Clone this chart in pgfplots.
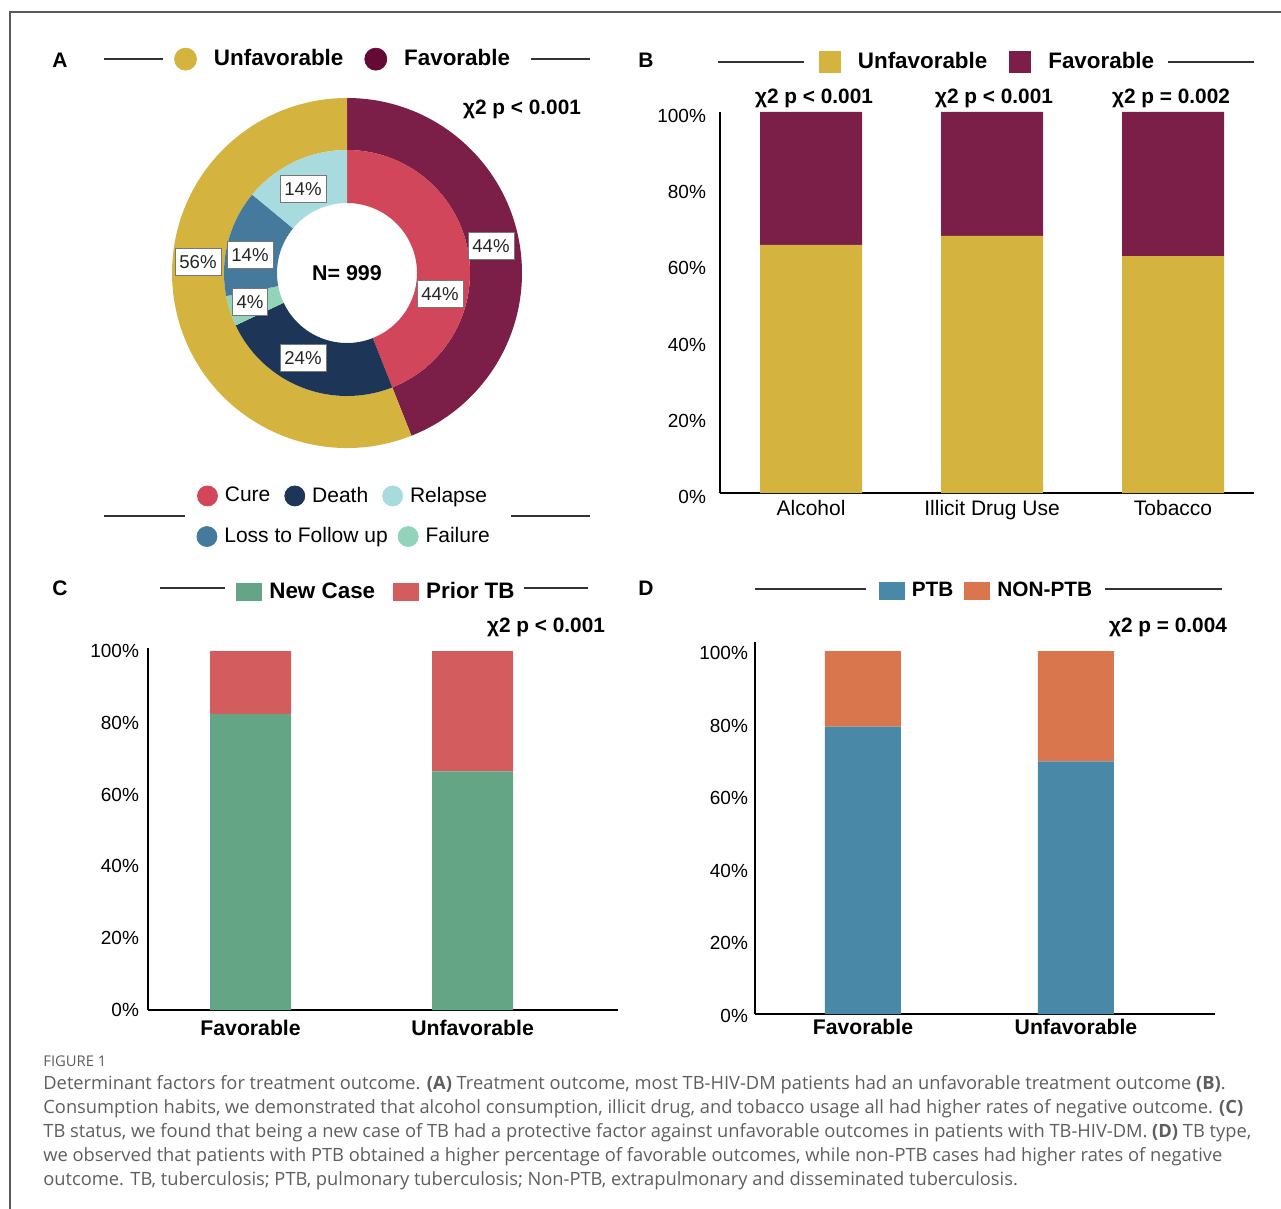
\documentclass[border=0pt]{standalone}
\usepackage{pgfplots}
\pgfplotsset{compat=1.18}
\usepackage{fontspec}
\setmainfont{Liberation Sans}
\newfontfamily\capfont{Open Sans}

\definecolor{unfav}{HTML}{D4B33E}
\definecolor{fav}{HTML}{7B1F48}
\definecolor{favkey}{HTML}{650A34}
\definecolor{cure}{HTML}{D1465A}
\definecolor{death}{HTML}{1D3557}
\definecolor{relapse}{HTML}{A8DBDD}
\definecolor{ltfu}{HTML}{467A9D}
\definecolor{failure}{HTML}{93D3BA}
\definecolor{newcase}{HTML}{64A586}
\definecolor{prior}{HTML}{D35D5E}
\definecolor{ptb}{HTML}{4A88A8}
\definecolor{nonptb}{HTML}{DA764E}
\definecolor{rulegray}{HTML}{333333}
\definecolor{boxgray}{HTML}{777777}
\definecolor{capgray}{HTML}{5E5E5E}

% ring segment from percentage #2 to #3 (clockwise from the top),
% radii #4 (inner) and #5 (outer) given in pixels of the reference (1 px = 0.5pt)
\newcommand{\ringseg}[5]{%
  \fill[#1] (axis cs:0,0) ++({90-3.6*#2}:{0.5pt*#5})
    arc[start angle={90-3.6*#2}, end angle={90-3.6*#3}, radius={0.5pt*#5}]
    -- ++({270-3.6*#3}:{0.5pt*(#5-#4)})
    arc[start angle={90-3.6*#3}, end angle={90-3.6*#2}, radius={0.5pt*#4}] -- cycle;}

\pgfplotsset{
  pielegend/.style={legend columns=-1,
    legend style={draw=none, fill=none, inner sep=0pt, outer sep=0pt, anchor=center,
      nodes={inner sep=0pt}}},
  pieaxis/.style={at={(Ac)}, anchor=center, x=0.5pt, y=0.5pt, disabledatascaling,
    xmin=-175, xmax=175, ymin=-175, ymax=175, hide axis, clip=false},
  baraxis/.style={anchor=south west, ybar stacked,
    axis x line=bottom, axis y line=left,
    axis line style={-, line width=1pt, black},
    major tick length=0pt, clip=false,
    ytick={0,20,40,60,80,100},
    yticklabel={\pgfmathprintnumber{\tick}\%},
    /pgf/number format/assume math mode=true,
    legend columns=-1,
    legend style={draw=none, fill=none, inner sep=0pt, outer sep=0pt, anchor=center,
      nodes={inner sep=0pt}, font=\bfseries\fontsize{11.2}{13}\selectfont}},
}

\begin{document}
\begin{tikzpicture}[x=0.5pt, y=-0.5pt]
\path[use as bounding box] (0,0) rectangle (1281,1209);
\draw[line width=0.8pt, black!65] (10,1209) -- (10,12) -- (1281,12);

\coordinate (Ac) at (347,273);
\coordinate (Bo) at (720,493);
\coordinate (Co) at (148,1010);
\coordinate (Do) at (755,1014);

% ---------- A: outer ring ----------
\begin{axis}[pieaxis, pielegend,
  legend style={at={(0.486,1.111)}, font=\bfseries\fontsize{11.2}{13}\selectfont,
    /tikz/every odd column/.append style={column sep=8.5pt},
    /tikz/every even column/.append style={column sep=10.5pt}}]
\addlegendimage{legend image code/.code={\fill[unfav] (5.5pt,0pt) circle[radius=5.5pt];}}
\addlegendentry{Unfavorable}
\addlegendimage{legend image code/.code={\fill[favkey] (5.5pt,0pt) circle[radius=5.5pt];}}
\addlegendentry{Favorable}
\ringseg{fav}{0}{44}{123}{175}
\ringseg{unfav}{44}{100}{123}{175}
\end{axis}

% ---------- A: inner ring ----------
\begin{axis}[pieaxis, pielegend,
  legend style={at={(0.486,-0.137)}, font=\fontsize{10.5}{12}\selectfont,
    /tikz/every odd column/.append style={column sep=3.5pt},
    /tikz/every even column/.append style={column sep=7pt}}]
\addlegendimage{legend image code/.code={\fill[cure] (5pt,0pt) circle[radius=5pt];}}
\addlegendentry{Cure}
\addlegendimage{legend image code/.code={\fill[death] (5pt,0pt) circle[radius=5pt];}}
\addlegendentry{Death}
\addlegendimage{legend image code/.code={\fill[relapse] (5pt,0pt) circle[radius=5pt];}}
\addlegendentry{Relapse}
\ringseg{cure}{0}{44}{70}{123}
\ringseg{death}{44}{68}{70}{123}
\ringseg{failure}{68}{72}{70}{123}
\ringseg{ltfu}{72}{86}{70}{123}
\ringseg{relapse}{86}{100}{70}{123}
\begin{scope}[every node/.style={fill=white, draw=boxgray, line width=0.4pt,
    inner xsep=2.2pt, inner ysep=3.3pt, text=black!85, font=\fontsize{9.3}{11}\selectfont}]
\node at (axis cs:-44,84) {14\%};
\node at (axis cs:-97,18) {14\%};
\node at (axis cs:-97,-29) {4\%};
\node at (axis cs:-44,-85) {24\%};
\node at (axis cs:93,-21) {44\%};
\node at (axis cs:144,27) {44\%};
\node at (axis cs:-149,11) {56\%};
\end{scope}
\node[font=\bfseries\fontsize{10.7}{12}\selectfont] at (axis cs:0,0) {N= 999};
\end{axis}

\begin{axis}[pieaxis, pielegend,
  legend style={at={(0.489,-0.253)}, font=\fontsize{10.5}{12}\selectfont,
    /tikz/every odd column/.append style={column sep=3.5pt},
    /tikz/every even column/.append style={column sep=5pt}}]
\addlegendimage{legend image code/.code={\fill[ltfu] (5pt,0pt) circle[radius=5pt];}}
\addlegendentry{Loss to Follow up}
\addlegendimage{legend image code/.code={\fill[failure] (5pt,0pt) circle[radius=5pt];}}
\addlegendentry{Failure}
\end{axis}

% ---------- B: consumption habits ----------
\begin{axis}[baraxis, at={(Bo)},
  x=90.5pt, y=1.905pt, xmin=-0.503, xmax=2.448, ymin=0, ymax=100,
  bar width=51pt,
  xtick={0,1,2}, xticklabels={Alcohol, Illicit Drug Use, Tobacco},
  yticklabel style={font=\fontsize{9.5}{11}\selectfont, xshift=-3.5pt, yshift=-2pt},
  xticklabel style={font=\fontsize{10.5}{12}\selectfont},
  legend image code/.code={\fill[#1] (0pt,-5.5pt) rectangle (11pt,5.5pt);},
  legend style={at={(0.499,1.131)},
    /tikz/every odd column/.append style={column sep=8.5pt},
    /tikz/every even column/.append style={column sep=11pt}}]
\addplot[fill=unfav, draw=none] coordinates {(0,65.1) (1,67.5) (2,62.2)};
\addplot[fill=fav, draw=none] coordinates {(0,34.9) (1,32.5) (2,37.8)};
\legend{Unfavorable, Favorable}
\end{axis}

% ---------- C: TB status ----------
\begin{axis}[baraxis, at={(Co)},
  x=111pt, y=1.795pt, xmin=-0.462, xmax=1.655, ymin=0, ymax=100.8,
  bar width=40.5pt,
  xtick={0,1}, xticklabels={Favorable, Unfavorable},
  yticklabel style={font=\fontsize{9.5}{11}\selectfont, xshift=-1pt},
  xticklabel style={font=\bfseries\fontsize{10.6}{12}\selectfont, yshift=-1.5pt},
  legend image code/.code={\fill[#1] (0pt,-4.5pt) rectangle (13pt,4.5pt);},
  legend style={at={(0.484,1.155)},
    /tikz/every odd column/.append style={column sep=3.5pt},
    /tikz/every even column/.append style={column sep=9pt}}]
\addplot[fill=newcase, draw=none] coordinates {(0,82.5) (1,66.5)};
\addplot[fill=prior, draw=none] coordinates {(0,17.5) (1,33.5)};
\legend{New Case, Prior TB}
\end{axis}

% ---------- D: TB type ----------
\begin{axis}[baraxis, at={(Do)},
  x=106.5pt, y=1.815pt, xmin=-0.507, xmax=1.653, ymin=0, ymax=102.5,
  bar width=38pt,
  xtick={0,1}, xticklabels={Favorable, Unfavorable},
  yticklabel style={font=\fontsize{9.5}{11}\selectfont, yshift=-1pt},
  xticklabel style={font=\bfseries\fontsize{10.6}{12}\selectfont, yshift=1pt},
  legend image code/.code={\fill[#1] (0pt,-4.5pt) rectangle (13pt,4.5pt);},
  legend style={at={(0.501,1.137)}, font=\bfseries\fontsize{10.4}{12}\selectfont,
    /tikz/every odd column/.append style={column sep=3.5pt},
    /tikz/every even column/.append style={column sep=5.5pt}}]
\addplot[fill=ptb, draw=none] coordinates {(0,79.2) (1,69.6)};
\addplot[fill=nonptb, draw=none] coordinates {(0,20.8) (1,30.4)};
\legend{PTB, NON-PTB}
\end{axis}

% ---------- panel letters, rules, test results ----------
\begin{scope}[every node/.style={font=\bfseries\fontsize{10.5}{12}\selectfont, anchor=base}]
\node at (60,68) {A};
\node at (646,68) {B};
\node at (60,595) {C};
\node at (646,595) {D};
\end{scope}
\begin{scope}[line width=0.8pt, rulegray]
\draw (104,59) -- (163,59);  \draw (531,59) -- (590,59);
\draw (104,516) -- (185,516); \draw (511,516) -- (590,516);
\draw (718,62) -- (804,62);  \draw (1168,62) -- (1254,62);
\draw (160,588) -- (225,588); \draw (524,588) -- (588,588);
\draw (755,589) -- (866,589); \draw (1105,589) -- (1222,589);
\end{scope}
\begin{scope}[every node/.style={font=\bfseries\fontsize{10.4}{12}\selectfont, anchor=base}]
\node at (522,115) {χ2 p < 0.001};
\node at (814,104) {χ2 p < 0.001};
\node at (994,104) {χ2 p < 0.001};
\node at (1171,104) {χ2 p = 0.002};
\node at (546,632) {χ2 p < 0.001};
\node at (1168,632) {χ2 p = 0.004};
\end{scope}

% ---------- caption ----------
\node[anchor=base west, inner sep=0pt, text=capgray, font=\capfont\fontsize{7.4}{8}\selectfont]
  at (43,1066) {FIGURE 1};
\begin{scope}[every node/.style={anchor=base west, inner sep=0pt, text=capgray,
    font=\capfont\fontsize{9.15}{10}\selectfont}]
\node at (43,1089) {Determinant factors for treatment outcome. \textbf{(A)} Treatment outcome, most TB-HIV-DM patients had an unfavorable treatment outcome \textbf{(B)}.};
\node at (43,1113) {Consumption habits, we demonstrated that alcohol consumption, illicit drug, and tobacco usage all had higher rates of negative outcome. \textbf{(C)}};
\node at (43,1137) {TB status, we found that being a new case of TB had a protective factor against unfavorable outcomes in patients with TB-HIV-DM. \textbf{(D)} TB type,};
\node at (43,1161) {we observed that patients with PTB obtained a higher percentage of favorable outcomes, while non-PTB cases had higher rates of negative};
\node at (43,1185) {outcome. TB, tuberculosis; PTB, pulmonary tuberculosis; Non-PTB, extrapulmonary and disseminated tuberculosis.};
\end{scope}
\end{tikzpicture}
\end{document}
